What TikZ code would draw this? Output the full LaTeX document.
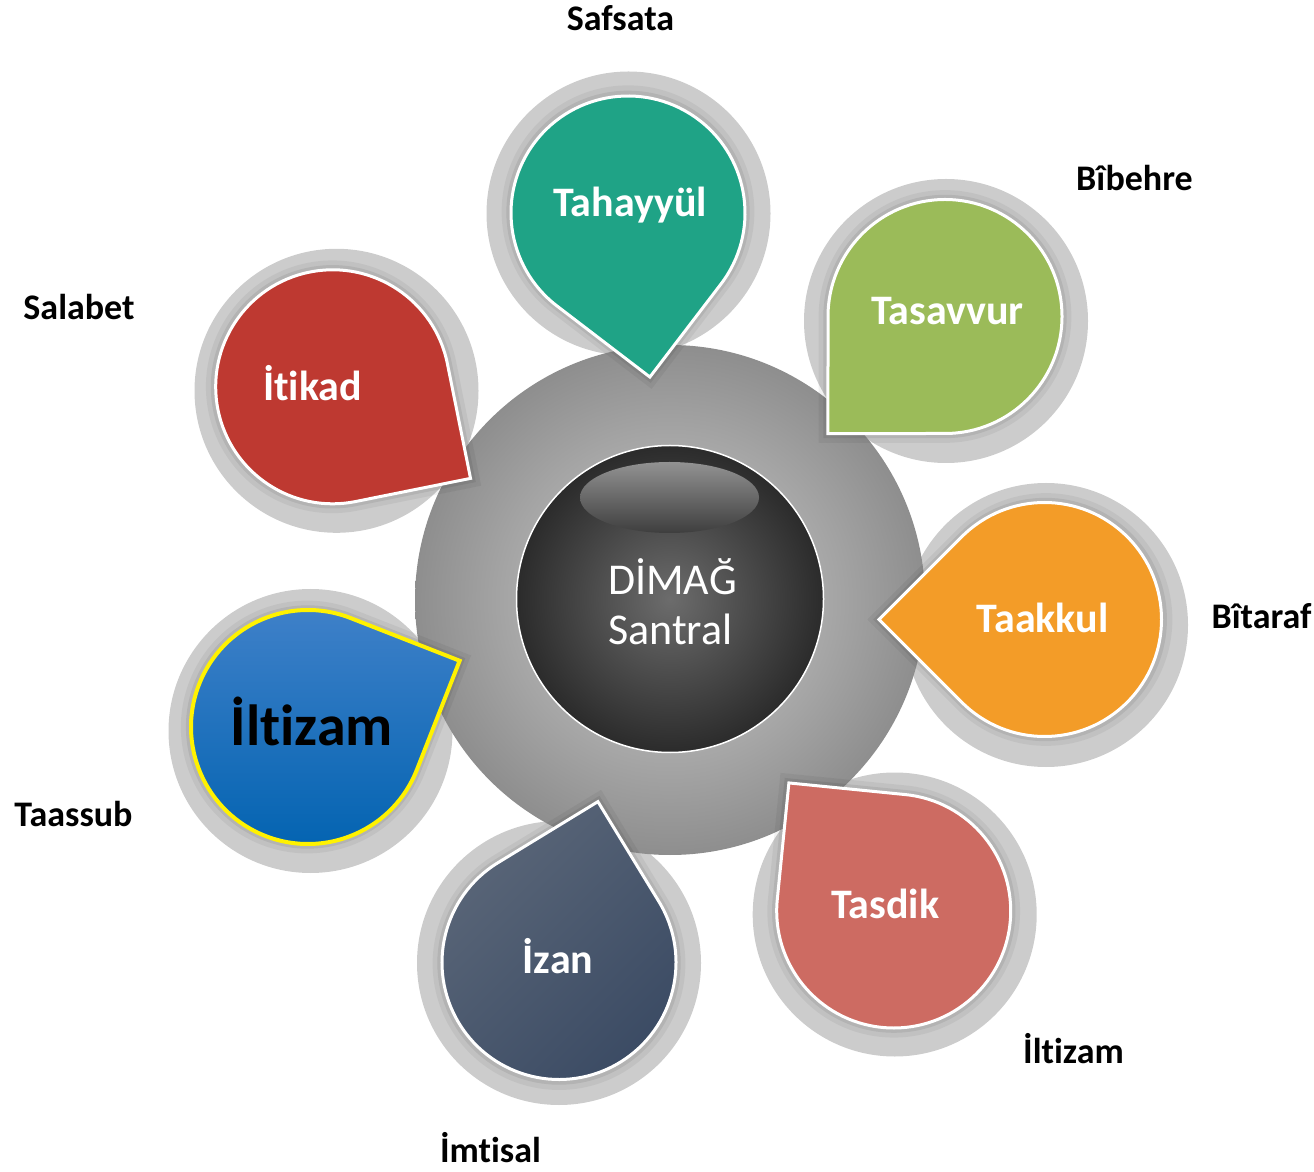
\documentclass[tikz,border=0pt]{standalone}
\usepackage{fontspec}
\setmainfont{Carlito}[Ligatures=NoCommon]
\usetikzlibrary{shadows}
\definecolor{ringgrey}{HTML}{CCCCCC}
\definecolor{bigin}{HTML}{CFCFCF}
\definecolor{bigout}{HTML}{8E8E8E}
\definecolor{ballin}{HTML}{6C6C6C}
\definecolor{ballout}{HTML}{2B2B2B}
\definecolor{glosstop}{HTML}{929292}
\definecolor{glossbot}{HTML}{3E3E3E}
\definecolor{tahayyulc}{HTML}{1FA386}
\definecolor{tasavvurc}{HTML}{9BBB59}
\definecolor{taakkulc}{HTML}{F39C28}
\definecolor{tasdikc}{HTML}{CD6B62}
\definecolor{izantop}{HTML}{5B6779}
\definecolor{izanbot}{HTML}{3A4A63}
\definecolor{iltizamtop}{HTML}{4282CA}
\definecolor{iltizambot}{HTML}{0062B0}
\definecolor{itikadc}{HTML}{BE3931}
\tikzset{DimagChart/.style={
    x = 1pt, y = 1pt,
    ring/.style = {fill=ringgrey},
    halo/.style = {general shadow={fill=black, opacity=.05, shadow scale=1.08},
                   general shadow={fill=black, opacity=.07, shadow scale=1.04}},
    petal/.style = {draw=white, line width=3pt, halo},
    petaltext/.style = {anchor=base, inner sep=0pt, text=white,
                        font=\bfseries\fontsize{42}{50}\selectfont},
    outertext/.style = {anchor=base, inner sep=0pt,
                        font=\bfseries\fontsize{36}{44}\selectfont}
    },
    pics/drop/.style 2 args = {code={
        \path[petal, #2] (#1+45:117) -- (#1:165.5) -- (#1-45:117)
            arc [start angle=#1-45, delta angle=-270, radius=117] -- cycle;
    }}
}

\begin{document}
\begin{tikzpicture}[DimagChart]
    \useasboundingbox (0,0) rectangle (1314,1171);
    % rings
    \fill[ring] (628.5,957.5) circle [radius=142];
    \fill[ring] (946,850) circle [radius=142];
    \fill[ring] (1046,546) circle [radius=142];
    \fill[ring] (894.7,256.5) circle [radius=142];
    \fill[ring] (559,208) circle [radius=142];
    \fill[ring] (310.5,440) circle [radius=142];
    \fill[ring] (336.5,780.2) circle [radius=142];

    % centre
    \shade[inner color=bigin, outer color=bigout] (670,571) circle [radius=255];
    \shadedraw[inner color=ballin, outer color=ballout, draw=white, line width=1.5pt]
        (670,572) circle [radius=153.5];
    \shade[top color=glosstop, bottom color=glossbot]
        (669.5,673.5) ellipse [x radius=89.5, y radius=35.5];
    \node[text=white, align=left, anchor=base west, inner sep=0pt,
          font=\fontsize{44}{50}\selectfont] (dimag) at (608,526) {DİMAĞ\\Santral};

    % drops
    \path (628,958) pic {drop={-82.4}{fill=tahayyulc}};
    \path (945,854.5) pic {drop={225}{fill=tasavvurc}};
    \path (1044.5,551.5) pic {drop={180}{fill=taakkulc}};
    \path (893.7,260) pic {drop={129.3}{fill=tasdikc}};
    \path (559,208.5) pic {drop={76.4}{top color=izantop, bottom color=izanbot, shading angle=45}};
    \path (308,444) pic {drop={23.6}{draw=yellow, line width=4pt, top color=iltizamtop, bottom color=iltizambot}};
    \path (332.7,784.2) pic {drop={-33.6}{fill=itikadc}};

    \node[petaltext] (tahayyul) at (630,954) {Tahayyül};
    \node[petaltext] (tasavvur) at (947.5,846) {Tasavvur};
    \node[petaltext] (taakkul) at (1042.5,538.3) {Taakkul};
    \node[petaltext] (tasdik) at (885.3,252.7) {Tasdik};
    \node[petaltext] (izan) at (558,197.7) {İzan};
    \node[petaltext, text=black, font=\bfseries\fontsize{58}{64}\selectfont] (iltizam) at (311.7,425.3) {İltizam};
    \node[petaltext] (itikad) at (312.5,770.3) {İtikad};

    % outer words
    \node[outertext] (safsata) at (620.5,1140) {Safsata};
    \node[outertext] (bibehre) at (1134.5,980) {Bîbehre};
    \node[outertext] (bitaraf) at (1261.5,542) {Bîtaraf};
    \node[outertext] (iltizamout) at (1073.5,108) {İltizam};
    \node[outertext] (imtisal) at (490.5,9) {İmtisal};
    \node[outertext] (taassub) at (73.5,345) {Taassub};
    \node[outertext] (salabet) at (79,851) {Salabet};
\end{tikzpicture}
\end{document}
